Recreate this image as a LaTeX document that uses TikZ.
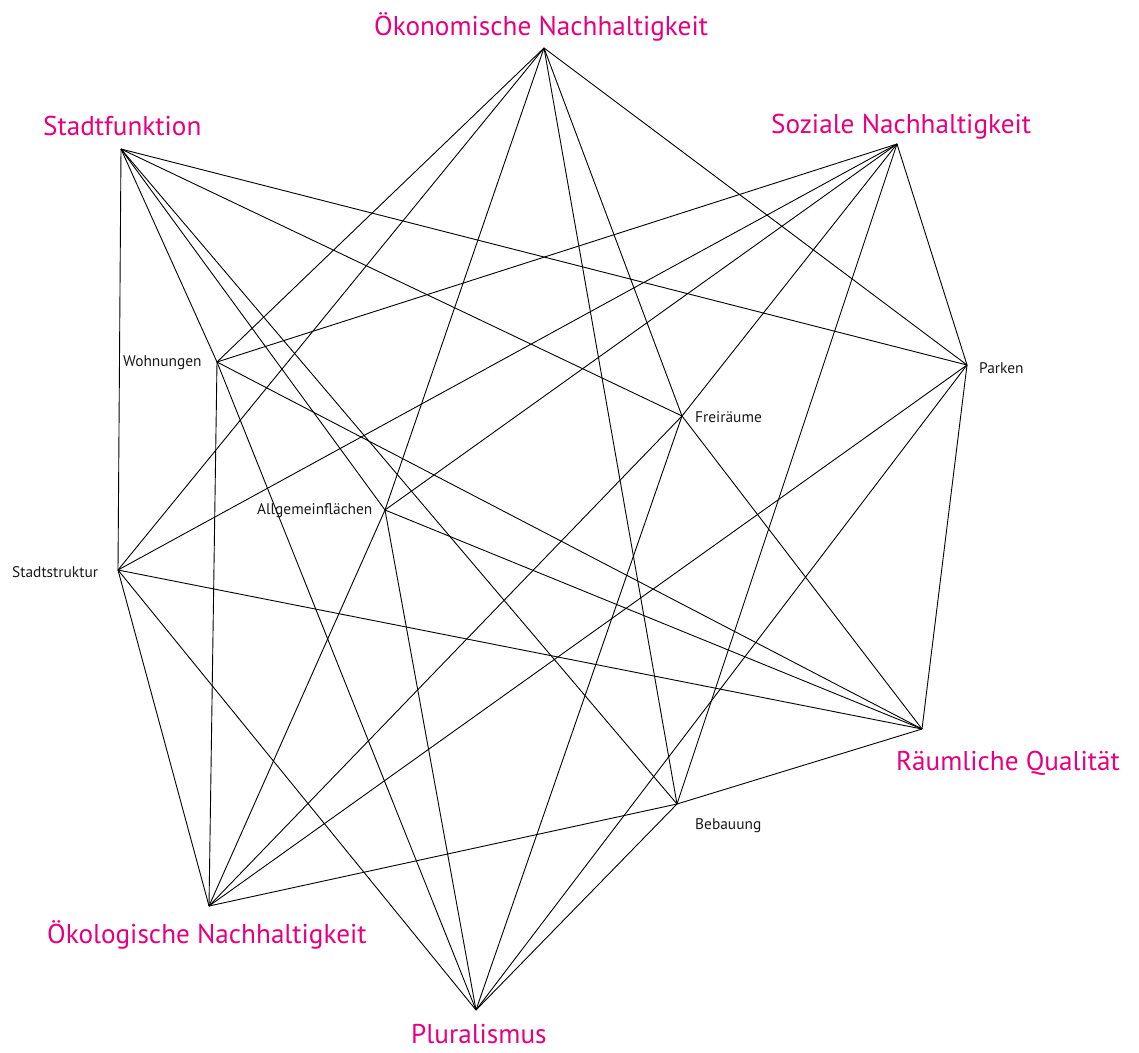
\documentclass[tikz,border=0pt]{standalone}
\usepackage{fontspec}
\setmainfont{PT Sans}
\definecolor{mag}{RGB}{230,0,126}
\begin{document}
\begin{tikzpicture}[x=1pt,y=-1pt,
  edge/.style={black, line width=0.9pt},
  biglabel/.style={text=mag, font=\fontsize{27.2}{30}\selectfont, inner sep=0pt, anchor=base west},
  smalllabel/.style={text=black!90, font=\fontsize{15.4}{17}\selectfont, inner sep=0pt, anchor=base west}]
\useasboundingbox (0,0) rectangle (1139,1052);
% magenta concepts
\coordinate (oek) at (544,48);
\coordinate (sf)  at (121,149);
\coordinate (sn)  at (897,144);
\coordinate (rq)  at (922,729);
\coordinate (oko) at (209,906);
\coordinate (pl)  at (476,1010);
% black elements
\coordinate (wo) at (217,362);
\coordinate (pa) at (967,365);
\coordinate (fr) at (682,416);
\coordinate (al) at (385,510);
\coordinate (st) at (118,570);
\coordinate (be) at (677,804);
% connectors: every concept to every element
\foreach \m in {oek,sf,sn,rq,oko,pl}{
  \foreach \e in {wo,pa,fr,al,st,be}{
    \draw[edge] (\m) -- (\e);
  }
}
% labels
\node[biglabel] (loek) at (374,35) {Ökonomische Nachhaltigkeit};
\node[biglabel] (lsf)  at (43,135) {Stadtfunktion};
\node[biglabel] (lsn)  at (771,133) {Soziale Nachhaltigkeit};
\node[biglabel] (lrq)  at (896,770) {Räumliche Qualität};
\node[biglabel] (loko) at (47,943) {Ökologische Nachhaltigkeit};
\node[biglabel] (lpl)  at (411,1043) {Pluralismus};
\node[smalllabel] (lwo) at (123,366) {Wohnungen};
\node[smalllabel] (lpa) at (979,373) {Parken};
\node[smalllabel] (lfr) at (695,422) {Freiräume};
\node[smalllabel] (lal) at (257,514) {Allgemeinflächen};
\node[smalllabel] (lst) at (12,577) {Stadtstruktur};
\node[smalllabel] (lbe) at (695,829) {Bebauung};
\end{tikzpicture}
\end{document}
